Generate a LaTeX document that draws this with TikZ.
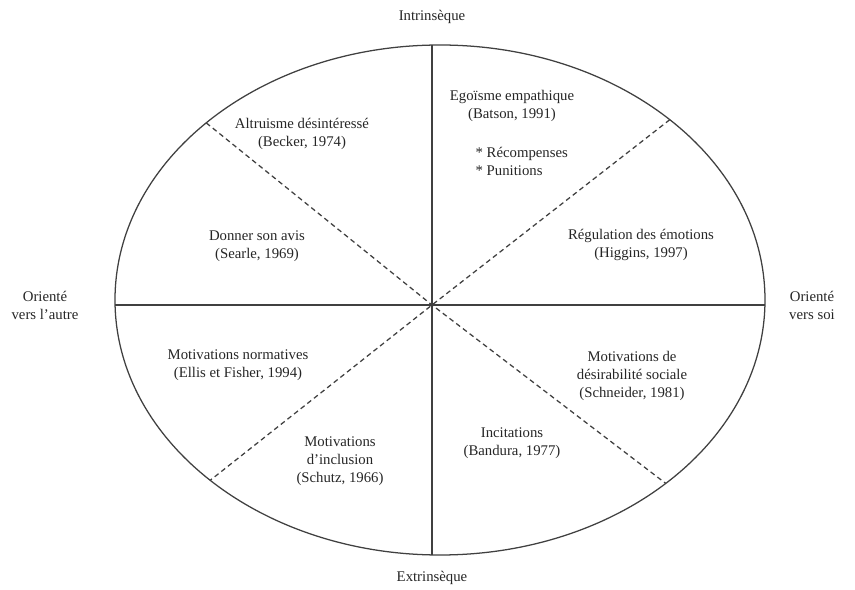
\documentclass[tikz,border=0pt]{standalone}
\usepackage{fontspec}
\setmainfont{Liberation Serif}
\tikzset{
  axe/.style={draw=black!75, line width=0.9pt},
  secteur/.style={draw=black!75, line width=0.9pt, dash pattern=on 3.5pt off 2.5pt},
  etiquette/.style={align=center, font=\fontsize{10.5}{12.8}\selectfont, text=black!85, inner sep=1pt}
}
\begin{document}
\begin{tikzpicture}[line join=round, line cap=butt]
				\useasboundingbox (-10.8,-7.125) rectangle (10.575,7.625);
				\coordinate (O) at (0,0);
				\coordinate (C) at (0.2,0.125);
				\coordinate (N) at (0,6.498);
				\coordinate (S) at (0,-6.248);
				\coordinate (W) at (-7.923,0);
				\coordinate (E) at (8.323,0);
				\coordinate (NO) at ([shift={(136:8.125cm and 6.375cm)}]C);
				\coordinate (NE) at ([shift={(45:8.125cm and 6.375cm)}]C);
				\coordinate (SO) at ([shift={(225:8.125cm and 6.375cm)}]C);
				\coordinate (SE) at ([shift={(314:8.125cm and 6.375cm)}]C);
				
				\draw[axe] (C) ellipse (8.125cm and 6.375cm);
				\draw[axe] (N) -- (S);
				\draw[axe] (W) -- (E);
				\draw[secteur] (NO) -- (O) -- (SE);
				\draw[secteur] (NE) -- (O) -- (SO);
				
				% axes
				\node[etiquette] (intr) at (0,7.2) {Intrinsèque};
				\node[etiquette] (extr) at (0,-6.825) {Extrinsèque};
				\node[etiquette] (autre) at (-9.675,0) {Orienté\\vers l’autre};
				\node[etiquette] (soi) at (9.5,0) {Orienté\\vers soi};
				
				% secteurs
				\node[etiquette] (altr) at (-3.25,4.275) {Altruisme désintéressé\\(Becker, 1974)};
				\node[etiquette] (ego) at (2,4.975) {Egoïsme empathique\\(Batson, 1991)};
				\node[etiquette, align=left, anchor=west] (recomp) at (1.05,3.6) {* Récompenses\\* Punitions};
				\node[etiquette] (regul) at (5.225,1.5) {Régulation des émotions\\(Higgins, 1997)};
				\node[etiquette] (avis) at (-4.375,1.475) {Donner son avis\\(Searle, 1969)};
				\node[etiquette] (norm) at (-4.85,-1.5) {Motivations normatives\\(Ellis et Fisher, 1994)};
				\node[etiquette] (desir) at (5,-1.775) {Motivations de\\désirabilité sociale\\(Schneider, 1981)};
				\node[etiquette] (incit) at (2,-3.45) {Incitations\\(Bandura, 1977)};
				\node[etiquette] (incl) at (-2.3,-3.9) {Motivations\\d’inclusion\\(Schutz, 1966)};
			\end{tikzpicture}
\end{document}
